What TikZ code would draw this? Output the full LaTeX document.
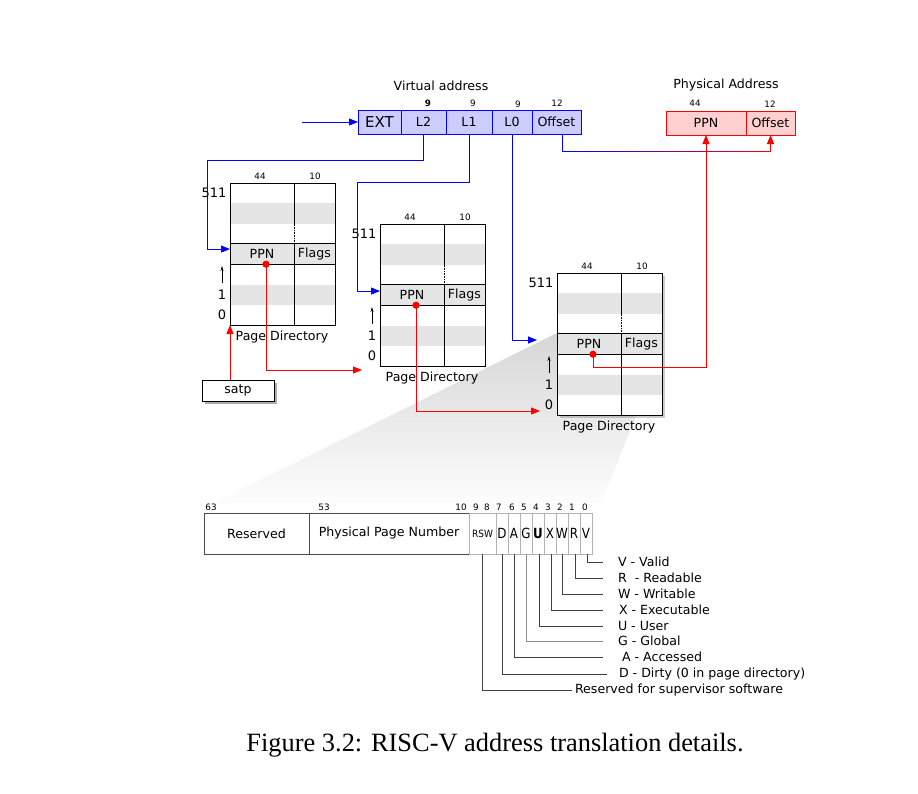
\documentclass[tikz,border=0pt]{standalone}
\usepackage{fontspec}
\setmainfont{DejaVu Sans}
\newfontfamily\capfont{Liberation Serif}
\usetikzlibrary{arrows.meta,shadows,calc}
\definecolor{vafill}{RGB}{204,204,255}
\definecolor{pafill}{RGB}{255,208,208}
\definecolor{rowgray}{RGB}{229,229,229}
\newcommand{\PD}[4]{%
\begin{scope}[shift={(#2,#3)}]
 \node[draw,line width=1pt,fill=white,minimum width=105,minimum height=142,anchor=north west,#4] (#1) at (0,0) {};
 \fill[rowgray] (0,20.3) rectangle (105,40.6);
 \fill[rowgray] (0,60.9) rectangle (105,81.2);
 \fill[rowgray] (0,101.5) rectangle (105,121.8);
 \draw[line width=1pt] (0,60.9) -- (105,60.9) (0,81.2) -- (105,81.2);
 \draw[line width=1pt] (64,0) -- (64,40.6) (64,60.9) -- (64,142);
 \draw[densely dotted,line width=0.6pt] (64,40.6) -- (64,60.9);
 \draw[line width=1pt] (0,0) rectangle (105,142);
 \node[minimum width=64,minimum height=20.3,anchor=north west,txt] (#1ppn) at (0,60.9) {PPN};
 \node[minimum width=41,minimum height=20.3,anchor=north west,txt] (#1flags) at (64,60.9) {Flags};
 \node[small] (#1a) at (30,-7) {44};
 \node[small] (#1b) at (85,-7) {10};
 \node[lbl] (#1c) at (-16,10) {511};
 \node[lbl] (#1d) at (-8,112) {1};
 \node[lbl] (#1e) at (-8,132) {0};
 \coordinate (#1upa) at (-8,100);
 \coordinate (#1upb) at (-8,83);
 \draw[-{Stealth[length=5pt,width=3pt]},line width=0.7pt] (#1upa) -- (#1upb);
 \node[txt] (#1lab) at (52,154) {Page Directory};
 \coordinate (#1dot) at (36,81.2);
\end{scope}}
\newcommand{\bitl}[1]{\scalebox{0.85}[1]{#1}}
\begin{document}
\begin{tikzpicture}[x=1pt,y=-1pt,
  every node/.style={inner sep=0pt,outer sep=0pt},
  txt/.style={font=\fontsize{12.6}{14}\selectfont},
  lbl/.style={font=\fontsize{13}{14}\selectfont},
  small/.style={font=\fontsize{8.8}{9}\selectfont},
  va/.style={draw=blue,fill=vafill,line width=0.9pt,minimum height=24,anchor=north west,txt},
  pa/.style={draw=red,fill=pafill,line width=0.9pt,minimum height=24,anchor=north west,txt},
  barr/.style={blue,line width=0.9pt,-{Triangle[length=9pt,width=7pt]}},
  rarr/.style={red,line width=0.9pt,-{Triangle[length=9pt,width=7pt]}},
  bitbox/.style={draw=black!30,line width=0.8pt,minimum height=41,anchor=north west,font=\fontsize{14}{15}\selectfont},
  bigbox/.style={draw=black!70,line width=0.9pt,minimum height=41,anchor=north west,txt},
  leader/.style={black!75,line width=0.9pt},
]
\useasboundingbox (0,0) rectangle (918,793);

% wedge
\shade[top color=black!16,bottom color=white] (557,333) -- (662,353) -- (597,512) -- (196,512) -- cycle;

% virtual address
\node[txt] (vatitle) at (441,86) {Virtual address};
\node[va,minimum width=43] (ext) at (358,110) {\fontsize{15}{16}\selectfont EXT};
\node[va,minimum width=45] (l2) at (401,110) {L2};
\node[va,minimum width=46] (l1) at (446,110) {L1};
\node[va,minimum width=40] (l0) at (492,110) {L0};
\node[va,minimum width=49] (off) at (532,110) {Offset};
\node[small] (n1) at (428,103) {\textbf{9}};
\node[small] (n2) at (473,103) {9};
\node[small] (n3) at (518,104) {9};
\node[small] (n4) at (557,103) {12};
\coordinate (vain) at (302,122);
\draw[barr] (vain) -- (ext.west);

% physical address
\node[txt] (patitle) at (726,85) {Physical Address};
\node[pa,minimum width=80] (ppa) at (666,111) {PPN};
\node[pa,minimum width=49] (poff) at (746,111) {Offset};
\node[small] (n5) at (695,103) {44};
\node[small] (n6) at (770,104) {12};

% page directories
\PD{pdA}{230}{183}{}
\PD{pdB}{380}{224}{}
\PD{pdC}{557}{273}{drop shadow={opacity=0.4,shadow xshift=3pt,shadow yshift=-3pt}}

% satp
\node[draw,line width=1pt,fill=white,minimum width=72,minimum height=21,anchor=north west,txt,
  drop shadow={opacity=0.65,shadow xshift=2.5pt,shadow yshift=-2.5pt}] (satp) at (202,380) {satp};

% blue connectors
\coordinate (b1) at (207,160);
\coordinate (b2) at (357,182);
\coordinate (pdCin) at (537,340);
\draw[barr] (l2.south) |- (b1) |- ([yshift=5pt]pdAppn.west);
\draw[barr] (l1.south) |- (b2) |- ([yshift=4pt]pdBppn.west);
\draw[barr] (l0.south) |- (pdCin);

% offset connector
\coordinate (os) at ([xshift=5.5pt]off.south);
\coordinate (oa) at (os |- 0,151);
\coordinate (ob) at (poff.south |- 0,151);
\draw[blue,line width=0.9pt] (os) -- (oa);
\foreach \i in {0,...,29}{
  \pgfmathsetmacro\p{100-\i*100/29}
  \draw[blue!\p!red,line width=0.9pt] ($(oa)!\i/30!(ob)$) -- ($(oa)!{(\i+1)/30}!(ob)$);
}
\draw[rarr] (ob) -- (poff.south);

% red connectors
\coordinate (r1) at (362,370);
\coordinate (r2) at (540,411);
\draw[rarr] (satp.north -| pdA.south west) -- (pdA.south west);
\draw[rarr] (pdAdot) |- (r1);
\draw[rarr] (pdBdot) |- (r2);
\draw[rarr] (pdCdot) -- ++(0,13) -| (ppa.south);
\fill[red] (pdAdot) circle (3.6);
\fill[red] (pdBdot) circle (3.6);
\fill[red] (pdCdot) circle (3.6);

% PTE bar
\node[bigbox,minimum width=105] (res) at (204,513) {Reserved};
\node[bigbox,minimum width=160] (ppnf) at (309,513) {Physical Page Number};
\node[bitbox,minimum width=27,font=\fontsize{10}{10}\selectfont] (bRSW) at (469,513) {\scalebox{0.9}[1]{RSW}};
\node[bitbox,minimum width=12] (bD) at (496,513) {\bitl{D}};
\node[bitbox,minimum width=12] (bA) at (508,513) {\bitl{A}};
\node[bitbox,minimum width=12] (bG) at (520,513) {\bitl{G}};
\node[bitbox,minimum width=12] (bU) at (532,513) {\bitl{\textbf{U}}};
\node[bitbox,minimum width=12] (bX) at (544,513) {\bitl{X}};
\node[bitbox,minimum width=12] (bW) at (556,513) {\bitl{W}};
\node[bitbox,minimum width=12] (bR) at (568,513) {\bitl{R}};
\node[bitbox,minimum width=12] (bV) at (580,513) {\bitl{V}};
\node[small] (k63) at (211,507) {63};
\node[small] (k53) at (324,507) {53};
\node[small] (k10) at (461,507) {10};
\node[small] (k9) at (476,507) {9};
\node[small] (k8) at (487,507) {8};
\node[small] (k7) at (499,507) {7};
\node[small] (k6) at (512,507) {6};
\node[small] (k5) at (524,507) {5};
\node[small] (k4) at (536,507) {4};
\node[small] (k3) at (548,507) {3};
\node[small] (k2) at (560,507) {2};
\node[small] (k1) at (572,507) {1};
\node[small] (k0) at (585,507) {0};

% legend
\node[txt,anchor=west] (lV) at (618,562) {V - Valid};
\node[txt,anchor=west] (lR) at (618,578) {R~ - Readable};
\node[txt,anchor=west] (lW) at (618,594) {W - Writable};
\node[txt,anchor=west] (lX) at (619,610) {X - Executable};
\node[txt,anchor=west] (lU) at (618,626) {U - User};
\node[txt,anchor=west] (lG) at (618,641) {G - Global};
\node[txt,anchor=west] (lA) at (622,657) {A - Accessed};
\node[txt,anchor=west] (lD) at (619,674) {D - Dirty (0 in page directory)};
\node[txt,anchor=west] (lRSW) at (575,690) {Reserved for supervisor software};
\draw[leader] ([xshift=1pt]bV.south) |- ($(lV.west)+(-15,0)$);
\draw[leader] ([xshift=1pt]bR.south) |- ($(lR.west)+(-15,0)$);
\draw[leader] ([xshift=0pt]bW.south) |- ($(lW.west)+(-15,0)$);
\draw[leader] ([xshift=1pt]bX.south) |- ($(lX.west)+(-16,0)$);
\draw[leader] ([xshift=1pt]bU.south) |- ($(lU.west)+(-15,0)$);
\draw[leader,black!45] ([xshift=0pt]bG.south) |- ($(lG.west)+(-15,0)$);
\draw[leader] ([xshift=0pt]bA.south) |- ($(lA.west)+(-19,0)$);
\draw[leader] ([xshift=0pt]bD.south) |- ($(lD.west)+(-12,0)$);
\draw[leader] ([xshift=-0.5pt]bRSW.south) |- ($(lRSW.west)+(-3,0)$);

% caption
\node[font=\capfont\fontsize{26.4}{28}\selectfont,anchor=base] (cap) at (495,751) {Figure 3.2: RISC-V address translation details.};
\end{tikzpicture}
\end{document}
